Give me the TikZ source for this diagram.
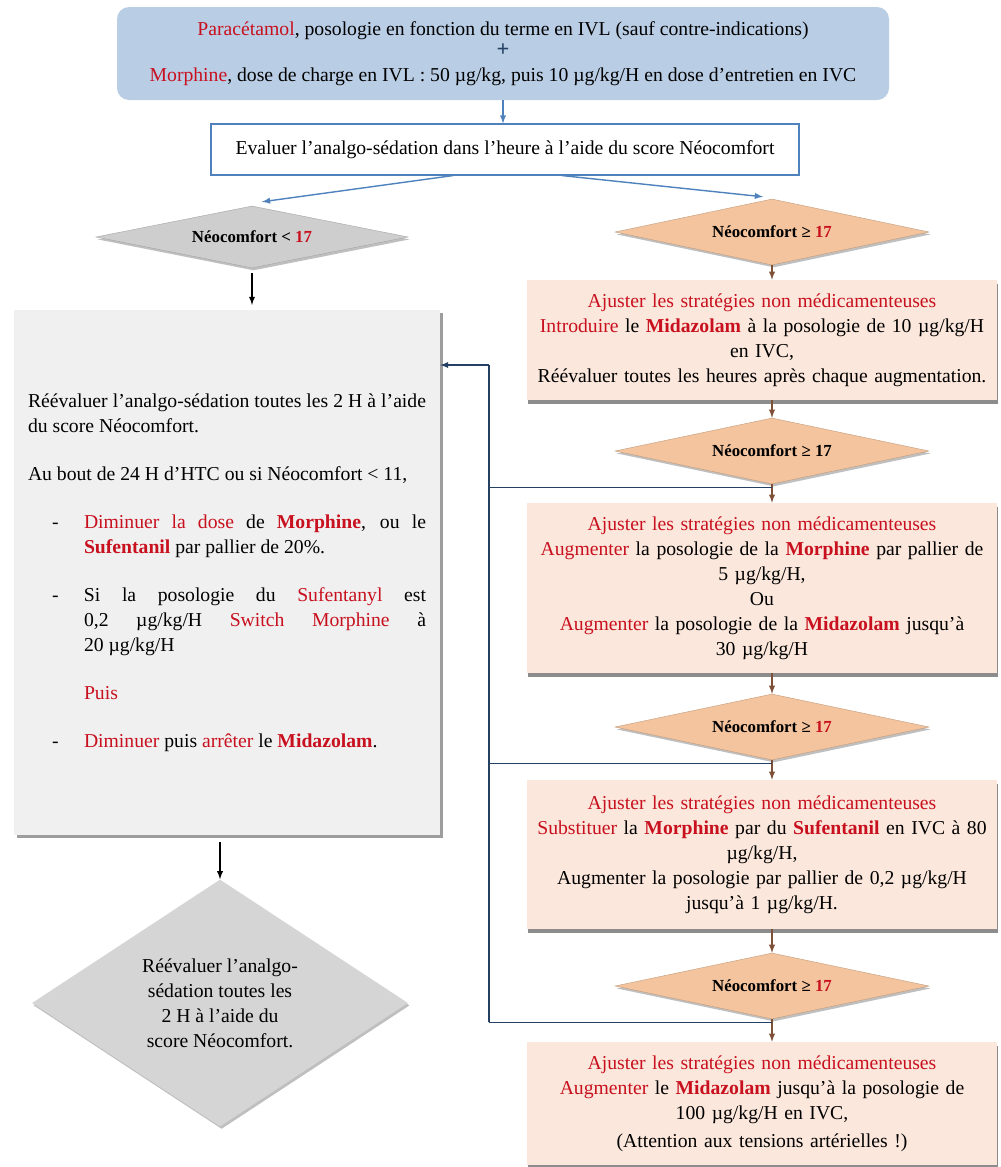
\documentclass[tikz,border=0pt]{standalone}
\usepackage{fontspec}
\setmainfont{Liberation Serif}
\usepackage{tikz}
\usetikzlibrary{arrows}
\usetikzlibrary{positioning}
\usetikzlibrary{shapes.geometric}
\usetikzlibrary{shadows}
\definecolor{mblue}{RGB}{185,205,229}
\definecolor{mblueline}{RGB}{79,129,189}
\definecolor{mnavy}{RGB}{36,64,98}
\definecolor{mred}{RGB}{200,16,30}
\definecolor{mpeach}{RGB}{244,196,158}
\definecolor{mpink}{RGB}{251,231,219}
\definecolor{mgrey}{RGB}{206,206,206}
\definecolor{mlgrey}{RGB}{240,240,240}
\definecolor{mbrown}{RGB}{125,80,55}
\newcommand{\rtxt}[1]{\textcolor{mred}{#1}}
\newcommand{\rbold}[1]{\textcolor{mred}{\textbf{#1}}}
\newcommand{\ditem}[2]{\par\hangindent=1.4cm\hangafter=0\noindent\llap{\makebox[0.8cm][l]{#1}}#2\par}
\tikzset{boxfont/.style = {font = \fontsize{14}{17.8}\selectfont}}
\tikzset{shad/.style = {drop shadow = {shadow xshift = 0.03cm, shadow yshift = -0.1cm, fill = black!60, opacity = 0.75}}}
\tikzset{softshad/.style = {drop shadow = {shadow xshift = 0.04cm, shadow yshift = -0.06cm, fill = black!50, opacity = 0.5}}}
\tikzset{topbox/.style = {boxfont, fill = mblue, rounded corners = 0.3cm, minimum width = 19.3cm, minimum height = 2.325cm, align = center}}
\tikzset{evalbox/.style = {boxfont, draw = mblueline, line width = 0.8pt, fill = white, minimum width = 14.7cm, minimum height = 1.275cm}}
\tikzset{rbox/.style = {boxfont, shad, fill = mpink, minimum width = 11.75cm, text width = 11.4cm, align = center}}
\tikzset{peachdia/.style = {diamond, aspect = 4.7, inner sep = 0, softshad, fill = mpeach, draw = mpeach!80!black, line width = 0.3pt, minimum width = 7.85cm, minimum height = 1.65cm, font = \bfseries\fontsize{12}{14}\selectfont}}
\tikzset{bluearr/.style = {-latex, draw = mblueline, line width = 1pt}}
\tikzset{brarr/.style = {-latex, draw = mbrown, line width = 1pt}}
\tikzset{blkarr/.style = {-latex, draw = black, line width = 1pt}}
\tikzset{fb/.style = {draw = mnavy, line width = 0.9pt}}

\begin{document}
\begin{tikzpicture}
  \useasboundingbox (0,0) rectangle (25.025,-29.175);

  % haut
  \node [topbox] (top) at (12.575,-1.3375) {\rtxt{Paracétamol}, posologie en fonction du terme en IVL (sauf contre-indications)\\[-3pt]
    {\color{mnavy}\bfseries\fontsize{16}{16}\selectfont +}\\[0pt]
    \rtxt{Morphine}, dose de charge en IVL : 50 µg/kg, puis 10 µg/kg/H en dose d'entretien en IVC};
  \node [evalbox] (eval) at (12.625,-3.7375) {Evaluer l'analgo-sédation dans l'heure à l'aide du score Néocomfort};
  \draw [bluearr] (top.south) -- (top.south |- eval.north);

  % colonne gauche
  \node [diamond, aspect = 5, inner sep = 0, softshad, fill = mgrey, draw = mgrey!80!black, line width = 0.3pt,
    minimum width = 7.8cm, minimum height = 1.55cm, font = \bfseries\fontsize{12}{14}\selectfont]
    (ldia) at (6.3,-5.925) {Néocomfort < \rtxt{17}};
  \node [boxfont, drop shadow = {shadow xshift = 0.08cm, shadow yshift = -0.08cm, fill = black!55, opacity = 0.7},
    fill = mlgrey, minimum width = 10.65cm, minimum height = 13.125cm, text width = 9.95cm, inner sep = 0, align = justify]
    (lbox) at (5.675,-14.3125) {%
    Réévaluer l'analgo-sédation toutes les 2 H à l'aide\linebreak du score Néocomfort.\par
    \vspace{0.575cm}
    Au bout de 24 H d'HTC ou si Néocomfort < 11,\par
    \vspace{0.575cm}
    \ditem{-}{\rtxt{Diminuer la dose} de \rbold{Morphine}, ou le\linebreak \rbold{Sufentanil} par pallier de 20\%.}
    \vspace{0.575cm}
    \ditem{-}{Si la posologie du \rtxt{Sufentanyl} est\linebreak 0,2 µg/kg/H \rtxt{Switch Morphine} à\linebreak 20 µg/kg/H}
    \vspace{0.575cm}
    \ditem{}{\rtxt{Puis}}
    \vspace{0.575cm}
    \ditem{-}{\rtxt{Diminuer} puis \rtxt{arrêter} le \rbold{Midazolam}.}};
  \node [diamond, aspect = 1.5, inner sep = 0, softshad, fill = mgrey!85!white, boxfont, align = center,
    minimum width = 9.4cm, minimum height = 6.175cm]
    (bdia) at (5.5,-25.075) {Réévaluer l'analgo-\\sédation toutes les\\2 H à l'aide du\\score Néocomfort.};

  \draw [blkarr] ([yshift = -0.12cm]ldia.south) -- ([yshift = 0.12cm]ldia.south |- lbox.north);
  \draw [blkarr] ([yshift = -0.17cm]bdia.north |- lbox.south) -- (bdia.north);

  % colonne droite
  \foreach \i/\y/\c in {1/5.8/mred, 2/11.275/black, 3/18.175/mred, 4/24.65/mred} {
    \node [peachdia] (rdia\i) at (19.3,-\y) {Néocomfort ≥ \textcolor{\c}{17}};
  }
  \node [rbox, minimum height = 3cm] (rbox1) at (19.05,-8.5) {\rtxt{Ajuster les stratégies non médicamenteuses}\\
    \rtxt{Introduire} le \rbold{Midazolam} à la posologie de 10 µg/kg/H\\ en IVC,\\
    Réévaluer toutes les heures après chaque augmentation.};
  \node [rbox, minimum height = 4.25cm] (rbox2) at (19.05,-14.7) {\rtxt{Ajuster les stratégies non médicamenteuses}\\
    \rtxt{Augmenter} la posologie de la \rbold{Morphine} par pallier de\\ 5 µg/kg/H,\\ Ou\\
    \rtxt{Augmenter} la posologie de la \rbold{Midazolam} jusqu'à\\ 30 µg/kg/H};
  \node [rbox, minimum height = 3.725cm] (rbox3) at (19.05,-21.3625) {\rtxt{Ajuster les stratégies non médicamenteuses}\\
    \rtxt{Substituer} la \rbold{Morphine} par du \rbold{Sufentanil} en IVC à 80\\ µg/kg/H,\\
    Augmenter la posologie par pallier de 0,2 µg/kg/H\\ jusqu'à 1 µg/kg/H.};
  \node [rbox, minimum height = 3.075cm] (rbox4) at (19.05,-27.5875) {\rtxt{Ajuster les stratégies non médicamenteuses}\\
    \rtxt{Augmenter} le \rbold{Midazolam} jusqu'à la posologie de\\ 100 µg/kg/H en IVC,\\[2pt]
    (Attention aux tensions artérielles !)};

  \foreach \a/\b in {rdia1/rbox1, rbox1/rdia2, rdia2/rbox2, rbox2/rdia3, rdia3/rbox3, rbox3/rdia4, rdia4/rbox4} {
    \draw [brarr] (\a.south -| rdia1) -- (\b.north -| rdia1);
  }

  % depart
  \draw [bluearr] ([xshift = -1.3cm]eval.south) -- ([shift = {(0.25,0.1)}]ldia.north);
  \draw [bluearr] ([xshift = 1.425cm]eval.south) -- ([shift = {(-0.225,0.05)}]rdia1.north);

  % retour
  \coordinate (back) at (12.225,-9.125);
  \foreach \d in {rdia2, rdia3, rdia4} {
    \draw [fb] ([yshift = -0.08cm]\d.south) -- ([yshift = -0.08cm]\d.south -| back);
  }
  \draw [fb] ([yshift = -0.08cm]rdia4.south -| back) -- (back);
  \draw [fb, -latex] (back) -- (back -| lbox.east);
\end{tikzpicture}
\end{document}
